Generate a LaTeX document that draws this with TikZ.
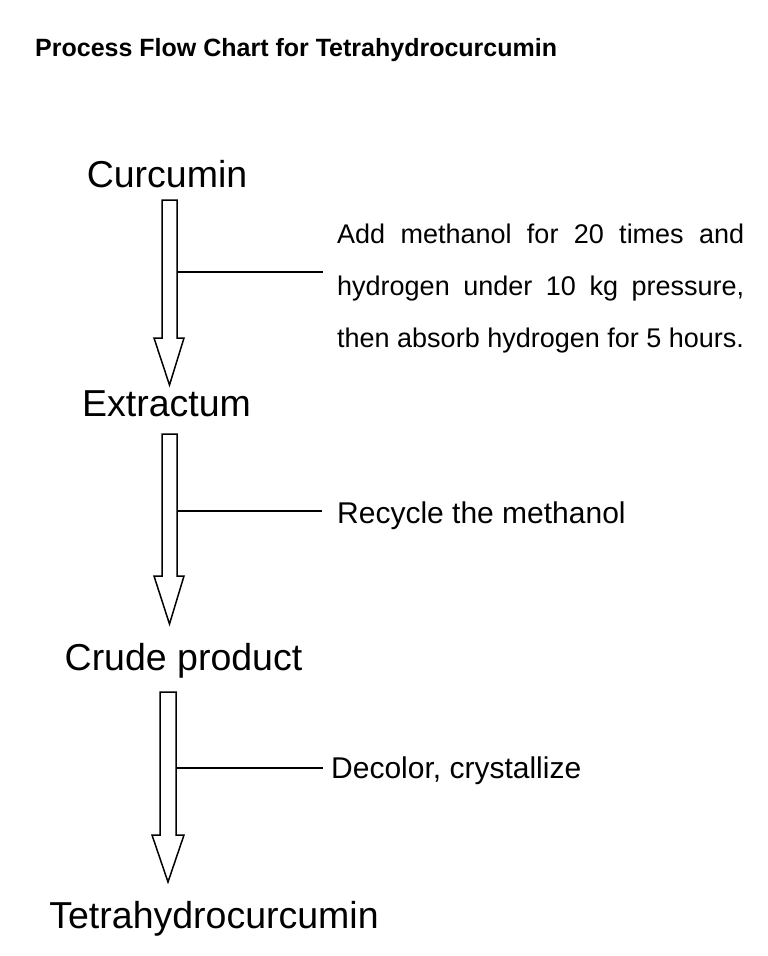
\documentclass[tikz,border=0pt]{standalone}
\usepackage{fontspec}
\setmainfont{Liberation Sans}
\begin{document}
\begin{tikzpicture}[x=1pt,y=-1pt,
  fatarrow/.style={draw=black,line width=1.5pt,fill=white,line join=miter},
  conn/.style={draw=black,line width=2.2pt},
  label/.style={inner sep=0pt,anchor=base,font=\fontsize{37.5}{40}\selectfont},
  note/.style={inner sep=0pt,anchor=base west,font=\fontsize{30}{34}\selectfont},
  para/.style={inner sep=0pt,anchor=base west,font=\fontsize{27}{52}\selectfont}]
\useasboundingbox (0,0) rectangle (768,956);
\fill[white] (0,0) rectangle (768,956);

\node[inner sep=0pt,anchor=base west,font=\bfseries\fontsize{25}{30}\selectfont] (title) at (35,56) {Process Flow Chart for Tetrahydrocurcumin};

\node[label] (curcumin) at (167,187) {Curcumin};
\node[label] (extractum) at (166.5,416) {Extractum};
\node[label] (crude) at (183.5,670) {Crude product};
\node[label] (thc) at (214,928) {Tetrahydrocurcumin};

% block arrows
\draw[fatarrow] (162,200) -- (177,200) -- (177,338) -- (184,338) -- (169.5,385) -- (154,338) -- (162,338) -- cycle;
\draw[fatarrow] (162,434) -- (177,434) -- (177,576) -- (184,576) -- (169.5,624) -- (154,576) -- (162,576) -- cycle;
\draw[fatarrow] (160,692) -- (176,692) -- (176,835) -- (184,835) -- (168,882) -- (152,835) -- (160,835) -- cycle;

\coordinate (s1) at (178,272);
\coordinate (e1) at (323,272);
\coordinate (s2) at (178,511);
\coordinate (e2) at (322,511);
\coordinate (s3) at (177,768);
\coordinate (e3) at (323,768);

\node[para] (n1a) at (337,243) {\makebox[407pt][s]{Add methanol for 20 times and}};
\node[para] (n1b) at (337,295) {\makebox[407pt][s]{hydrogen under 10 kg pressure,}};
\node[para] (n1c) at (337,347) {then absorb hydrogen for 5 hours.};
\node[note] (n2) at (337,523) {Recycle the methanol};
\node[note] (n3) at (331,778) {Decolor, crystallize};

\draw[conn] (s1) -- (e1);
\draw[conn] (s2) -- (e2);
\draw[conn] (s3) -- (e3);
\end{tikzpicture}
\end{document}
